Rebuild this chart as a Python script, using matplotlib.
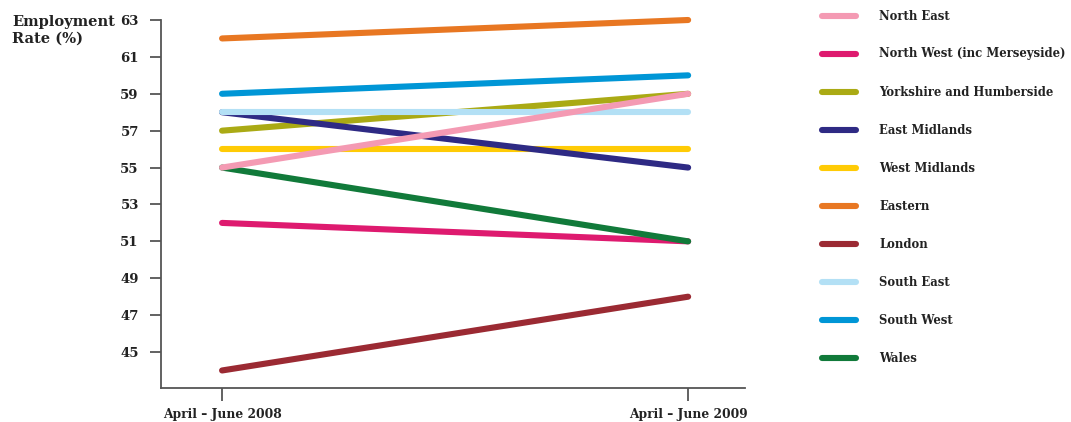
import matplotlib
matplotlib.use("Agg")
import matplotlib.pyplot as plt
from matplotlib.lines import Line2D

plt.rcParams["font.family"] = ["DejaVu Serif"]
plt.rcParams["font.weight"] = "bold"

# ── data ──────────────────────────────────────────────────────────────────────
periods = ["April – June 2008", "April – June 2009"]
regions = ["North East", "North West (inc Merseyside)", "Yorkshire and Humberside",
           "East Midlands", "West Midlands", "Eastern", "London",
           "South East", "South West", "Wales"]
rate_2008 = [55, 52, 57, 58, 56, 62, 44, 58, 59, 55]
rate_2009 = [59, 51, 59, 55, 56, 63, 48, 58, 60, 51]
colors = ["#f49ab3", "#de1a6f", "#aaaa14", "#2e2a84", "#ffcb05",
          "#e87722", "#9b2a33", "#b3e0f5", "#0096d6", "#117a3a"]
# drawing order, bottom to top
z_order = ["London", "Eastern", "South West", "North West (inc Merseyside)", "Wales",
           "Yorkshire and Humberside", "West Midlands", "East Midlands",
           "South East", "North East"]

W, H = 1071, 422
fig = plt.figure(figsize=(W / 100, H / 100), dpi=100)
ax = fig.add_axes([161 / W, 1 - 388 / H, (745 - 161) / W, (388 - 20) / H])

LW = 4.4
for i, name in enumerate(regions):
    ax.plot([0, 1], [rate_2008[i], rate_2009[i]], color=colors[i], lw=LW,
            solid_capstyle="round", zorder=2 + z_order.index(name), clip_on=False)

ax.set_xlim(-0.131, 1.122)
ax.set_ylim(43.05, 63)
ax.set_yticks(range(45, 64, 2))
ax.set_xticks([0, 1])
ax.set_xticklabels(periods)
for s in ["top", "right"]:
    ax.spines[s].set_visible(False)
for s in ["left", "bottom"]:
    ax.spines[s].set_color("#555555")
    ax.spines[s].set_linewidth(1.3)
ax.tick_params(axis="y", length=8, width=1.3, color="#555555", pad=8,
               labelsize=9.5, labelcolor="#222222")
ax.tick_params(axis="x", length=9.5, width=1.3, color="#555555", pad=5,
               labelsize=8.8, labelcolor="#222222")

fig.text(12 / W, 1 - 30 / H, "Employment\nRate (%)", fontsize=10.5, fontweight="bold",
         color="#222222", va="center", ha="left", linespacing=1.25)

# ── legend ────────────────────────────────────────────────────────────────────
for i, name in enumerate(regions):
    y = 1 - (16 + 38 * i) / H
    fig.add_artist(Line2D([822 / W, 856 / W], [y, y], color=colors[i], lw=LW,
                          solid_capstyle="round"))
    fig.text(879 / W, y, name, fontsize=8.4, fontweight="bold", color="#222222",
             va="center", ha="left")

fig.savefig("out.png", dpi=100)
